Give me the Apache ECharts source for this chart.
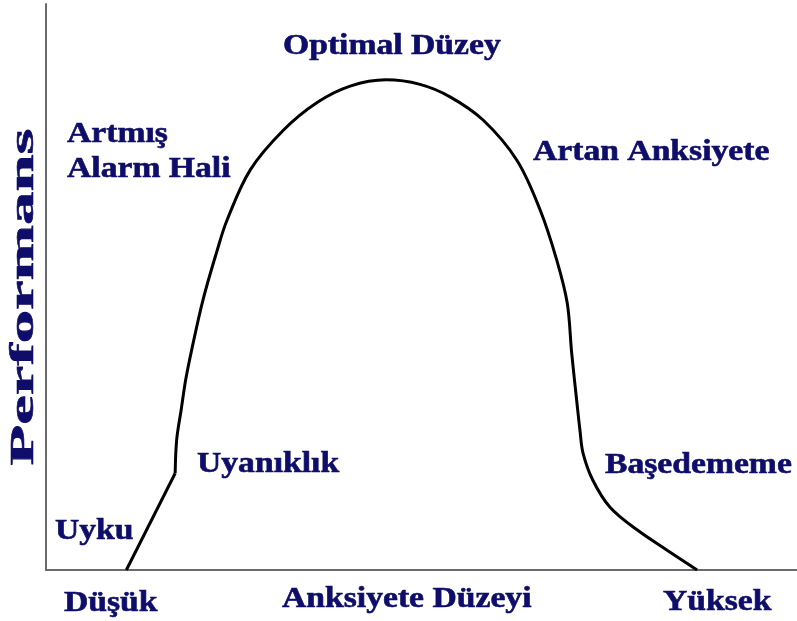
<!DOCTYPE html>
<html>
<head>
<meta charset="utf-8">
<script src="https://cdn.jsdelivr.net/npm/echarts@6/dist/echarts.min.js"></script>
<style>html,body{margin:0;padding:0;background:#fff}#c{width:797px;height:621px}</style>
</head>
<body>
<div id="c"></div>
<script>
// Anxiety level (x) vs performance (y), arbitrary 0-100 units
const riseX = [10.7, 17.2];
const riseY = [0, 17.1];
const curveX = [17.2, 17.4, 18.0, 18.6, 19.4, 20.9, 22.8, 24.1, 27.2, 31.6, 36.1, 40.5, 45.3, 49.8, 53.8, 58.2, 62.7, 65.8, 68.0, 69.4, 70.0, 70.7, 71.1, 71.5, 72.8, 75.1, 78.7, 82.7, 86.7];
const curveY = [17.1, 23.0, 28.3, 33.6, 38.9, 47.7, 56.5, 61.8, 70.7, 77.7, 82.6, 85.5, 86.6, 85.8, 83.6, 79.5, 72.4, 63.6, 54.8, 47.2, 38.3, 29.5, 24.7, 20.7, 15.9, 11.1, 7.1, 3.5, 0];
const stageLabels = ['Optimal Düzey', 'Artmış', 'Alarm Hali', 'Artan Anksiyete', 'Uyanıklık', 'Uyku', 'Başedememe'];
const axisLabels = ['Düşük', 'Anksiyete Düzeyi', 'Yüksek'];
const yTitle = 'Performans';

const chart = echarts.init(document.getElementById('c'), null, {renderer: 'canvas'});
const FONT = 'bold 29px "Liberation Serif", "Times New Roman", serif';
const NAVY = '#0e0e6a';
function txt(s, x, baseline) {
  return {type: 'text', x: x, y: baseline - 8, scaleX: 1.16, z: 10,
    style: {text: s, font: FONT, fill: NAVY, stroke: NAVY, lineWidth: 0.6, align: 'left', verticalAlign: 'middle'}};
}
const graphics = [
  txt(stageLabels[0], 283, 55),
  txt(stageLabels[1], 67, 143),
  txt(stageLabels[2], 67, 178),
  txt(stageLabels[3], 533, 161),
  txt(stageLabels[4], 197, 473),
  txt(stageLabels[5], 55, 540),
  txt(stageLabels[6], 605, 474),
  txt(axisLabels[0], 64, 612),
  txt(axisLabels[1], 282, 608),
  txt(axisLabels[2], 663, 611),
  {type: 'text', x: 24, y: 297, rotation: Math.PI / 2, scaleX: 2.02, z: 10,
    style: {text: yTitle, font: 'bold 33px "Liberation Serif", "Times New Roman", serif', fill: NAVY, stroke: NAVY, lineWidth: 0.6, align: 'center', verticalAlign: 'middle'}}
];
chart.setOption({
  animation: false,
  backgroundColor: '#fff',
  grid: {left: 46, right: 0, top: 4, bottom: 51, containLabel: false},
  xAxis: {type: 'value', min: 0, max: 100, axisLine: {show: true, onZero: false, lineStyle: {color: '#6a6a6a', width: 2}},
    axisTick: {show: false}, axisLabel: {show: false}, splitLine: {show: false}},
  yAxis: {type: 'value', min: 0, max: 100, axisLine: {show: true, onZero: false, lineStyle: {color: '#6a6a6a', width: 2}},
    axisTick: {show: false}, axisLabel: {show: false}, splitLine: {show: false}},
  series: [
    {type: 'line', data: riseX.map((x, i) => [x, riseY[i]]), showSymbol: false, lineStyle: {color: '#000', width: 3}},
    {type: 'line', data: curveX.map((x, i) => [x, curveY[i]]), smooth: 0.35, showSymbol: false, lineStyle: {color: '#000', width: 3}}
  ],
  graphic: graphics
});
</script>
</body>
</html>
